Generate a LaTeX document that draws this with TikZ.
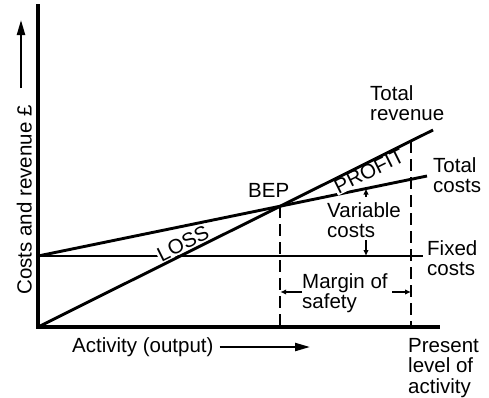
\documentclass[tikz,border=0pt]{standalone}
\usepackage{fontspec}
\setmainfont{Liberation Sans}
\usetikzlibrary{arrows.meta}
\begin{document}
\begin{tikzpicture}[x=1pt,y=-1pt,
  lbl/.style={inner sep=0pt, align=left, font=\fontsize{20.5}{20.5}\selectfont, anchor=north west},
  axis/.style={line width=3.3pt, line cap=rect},
  curve/.style={line width=2.9pt},
  guide/.style={line width=2.5pt, dash pattern=on 12pt off 6pt},
  tag/.style={inner sep=1pt, fill=white, font=\fontsize{20.5}{20.5}\selectfont, rotate=26.5},
  marker/.style={line width=1.7pt, -{Latex[length=6pt,width=5.5pt]}},
  bigarrow/.style={line width=2.2pt, -{Triangle[length=15pt,width=8pt]}},
]
\useasboundingbox (0,0) rectangle (489,397);

% key points of the chart
\coordinate (O)  at (38,327);
\coordinate (Ytop) at (38,6);
\coordinate (Xend) at (438,327);
\coordinate (F0) at (38,256);
\coordinate (F1) at (423,256);
\coordinate (C1) at (427,176);
\coordinate (R1) at (433,130);
\coordinate (BEP) at (intersection of O--R1 and F0--C1);
\coordinate (P) at (411,141);

% axes
\draw[axis] (Ytop) -- (O) -- (Xend);

% fixed and total cost lines
\draw[curve] (F0) -- (F1);
\draw[curve] (F0) -- (C1);

% region tags sit on a white patch over the cost lines
\node[tag] (loss) at (183,243.5) {LOSS};
\node[tag] (profit) at (369,171) {PROFIT};

% total revenue line
\draw[curve] (O) -- (R1);

% break-even and present activity levels
\draw[guide] (BEP) -- (BEP |- O);
\draw[guide] (P) -- (P |- O);

% labels
\node[lbl] (trev) at (370,85) {Total\\revenue};
\node[lbl] (tcost) at (433,157) {Total\\costs};
\node[lbl] (fcost) at (427,240) {Fixed\\costs};
\node[lbl] (present) at (408,338) {Present\\level of\\activity};
\node[lbl] (var) at (327,202) {Variable\\costs};
\node[lbl] (margin) at (302,273) {Margin of\\safety};
\node[lbl] (bep) at (248,183) {BEP};
\node[lbl] (act) at (72,337) {Activity (output)};
\node[inner sep=0pt, font=\fontsize{20.5}{20.5}\selectfont, rotate=90, anchor=base] (ylab) at (31.5,200) {Costs and revenue £};

% variable cost markers
\coordinate (vtop) at (366,188.5);
\coordinate (vbot) at (366,256);
\draw[marker] (366,197) -- (vtop);
\draw[marker] (366,240) -- (vbot);

% margin of safety markers
\draw[marker] (302,292) -- (BEP |- 0,292);
\draw[marker] (392,292) -- (P |- 0,292);

% axis direction arrows
\draw[bigarrow] (21,88) -- (21,20);
\draw[bigarrow] (act.east |- 0,347) ++(6,0) coordinate (a0) -- (310,347);
\end{tikzpicture}
\end{document}
